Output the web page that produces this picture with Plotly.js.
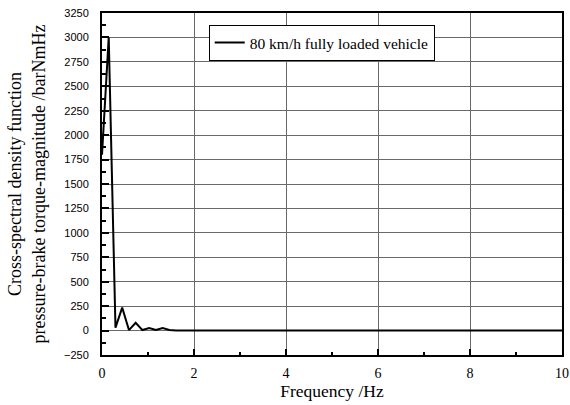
<!DOCTYPE html>
<html><head><meta charset="utf-8">
<script src="https://cdn.plot.ly/plotly-3.0.1.min.js"></script>
<style>body{margin:0;padding:0;background:#fff}#chart{width:570px;height:405px}</style>
</head><body><div id="chart"></div>
<script>
const seriesName = "80 km/h fully loaded vehicle";
const frequency = [0, 0.146, 0.293, 0.439, 0.586, 0.732, 0.879, 1.025, 1.172, 1.318, 1.465, 1.611, 10];
const magnitude = [1800, 3000, 30, 235, 5, 80, 5, 25, 5, 25, 5, 0, 0];
const xRange = [0, 10];
const yRange = [-250, 3250];

const BLACK = 'black';
const GRID = 'dimgray';
Plotly.newPlot('chart', [{
  x: frequency, y: magnitude, type: 'scatter', mode: 'lines', name: seriesName,
  line: {color: BLACK, width: 2}, showlegend: true
}], {
  width: 570, height: 405,
  margin: {l: 102, r: 8, t: 13, b: 50},
  paper_bgcolor: 'white', plot_bgcolor: 'white',
  showlegend: true,
  legend: {x: 0.232, y: 0.965, xanchor: 'left', yanchor: 'top', bgcolor: 'white',
    bordercolor: BLACK, borderwidth: 1,
    font: {family: 'Liberation Serif, serif', size: 15.5, color: BLACK}},
  xaxis: {range: xRange, tick0: 0, dtick: 2,
    showgrid: true, gridcolor: GRID, gridwidth: 1, zeroline: false,
    showline: true, linecolor: BLACK, linewidth: 2, mirror: true,
    ticks: 'inside', ticklen: 6, tickwidth: 2, tickcolor: BLACK, ticklabelstandoff: 4,
    minor: {dtick: 1, ticks: 'inside', ticklen: 3, tickwidth: 2, tickcolor: BLACK},
    tickfont: {family: 'Liberation Serif, serif', size: 14, color: BLACK},
    title: {text: 'Frequency /Hz', standoff: 2, font: {family: 'Liberation Serif, serif', size: 17.5, color: BLACK}}},
  yaxis: {range: yRange, tick0: 0, dtick: 250,
    showgrid: true, gridcolor: GRID, gridwidth: 1, zeroline: false,
    showline: true, linecolor: BLACK, linewidth: 2, mirror: true,
    ticks: 'inside', ticklen: 7, tickwidth: 2, tickcolor: BLACK, ticklabelstandoff: 9,
    minor: {dtick: 125, ticks: 'inside', ticklen: 4, tickwidth: 2, tickcolor: BLACK},
    tickfont: {family: 'Liberation Sans, Arial, sans-serif', size: 11, color: BLACK},
    title: {text: 'Cross-spectral density function<br>pressure-brake torque-magnitude /barNmHz', standoff: 14,
      font: {family: 'Liberation Serif, serif', size: 18, color: BLACK}}}
}, {displayModeBar: false});
</script></body></html>
